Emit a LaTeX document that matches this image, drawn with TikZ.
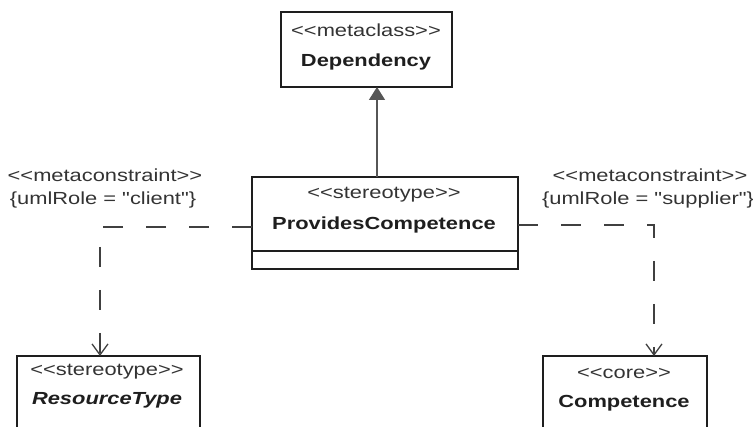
\documentclass[tikz,border=0pt]{standalone}
\usepackage{fontspec}
\setmainfont{Liberation Sans}[FakeStretch=1.25, Ligatures=TeXOff]
\usetikzlibrary{arrows.meta}
\definecolor{ink}{HTML}{1E1E1E}
\definecolor{stx}{HTML}{333333}
\tikzset{
  cls/.style={draw=ink, line width=1.6pt, fill=white, inner sep=0pt},
  st/.style={font=\fontsize{17.5}{20}\selectfont, text=stx, inner sep=0pt},
  nm/.style={font=\fontsize{17.5}{20}\selectfont\bfseries, text=ink, inner sep=0pt},
  dep/.style={draw=ink!85, line width=1.3pt, dash pattern=on 20pt off 23pt,
    -{Straight Barb[length=11pt, width=16pt, line width=1.3pt]}},
  gen/.style={draw=ink!75, line width=1.4pt, -{Triangle[length=13pt, width=16pt, fill=ink!75]}}
}
\begin{document}
\begin{tikzpicture}[x=1pt, y=-1pt]
\useasboundingbox (0,0) rectangle (753,427);
% Dependency
\draw[cls] (281,12) rectangle (452,87);
\node[st] (depst) at (366,30) {<<metaclass>>};
\node[nm] (depnm) at (366,62) {Dependency};
\coordinate (depbot) at (377,87);
% ProvidesCompetence
\draw[cls] (252,177) rectangle (518,269);
\draw[ink, line width=1.6pt] (252,251) -- (518,251);
\node[st] (pcst) at (384,195) {<<stereotype>>};
\node[nm] (pcnm) at (384,225) {ProvidesCompetence};
\coordinate (pctop) at (377,177);
\coordinate (pcl) at (252,227);
\coordinate (pcr) at (518,225);
% ResourceType
\draw[cls] (17,356) rectangle (200,450);
\node[st] (rtst) at (107,372) {<<stereotype>>};
\node[nm, font=\fontsize{17.5}{20}\selectfont\bfseries\itshape] (rtnm) at (107,400) {ResourceType};
\coordinate (rttop) at (100,356);
% Competence
\draw[cls] (543,356) rectangle (707,450);
\node[st] (cst) at (624,373) {<<core>>};
\node[nm] (cnm) at (624,403) {Competence};
\coordinate (ctop) at (654,356);
% connectors
\draw[gen] (pctop) -- (depbot);
\coordinate (lc) at (100,227);
\coordinate (rc) at (654,225);
\draw[dep] (pcl) -- (lc) -- (rttop);
\draw[dep] (pcr) -- (rc) -- (ctop);
% labels
\node[st] (l1) at (105,175) {<<metaconstraint>>};
\node[st] (l2) at (103,200) {\{umlRole = "client"\}};
\node[st] (r1) at (650,175) {<<metaconstraint>>};
\node[st] (r2) at (648,200) {\{umlRole = "supplier"\}};
\end{tikzpicture}
\end{document}
